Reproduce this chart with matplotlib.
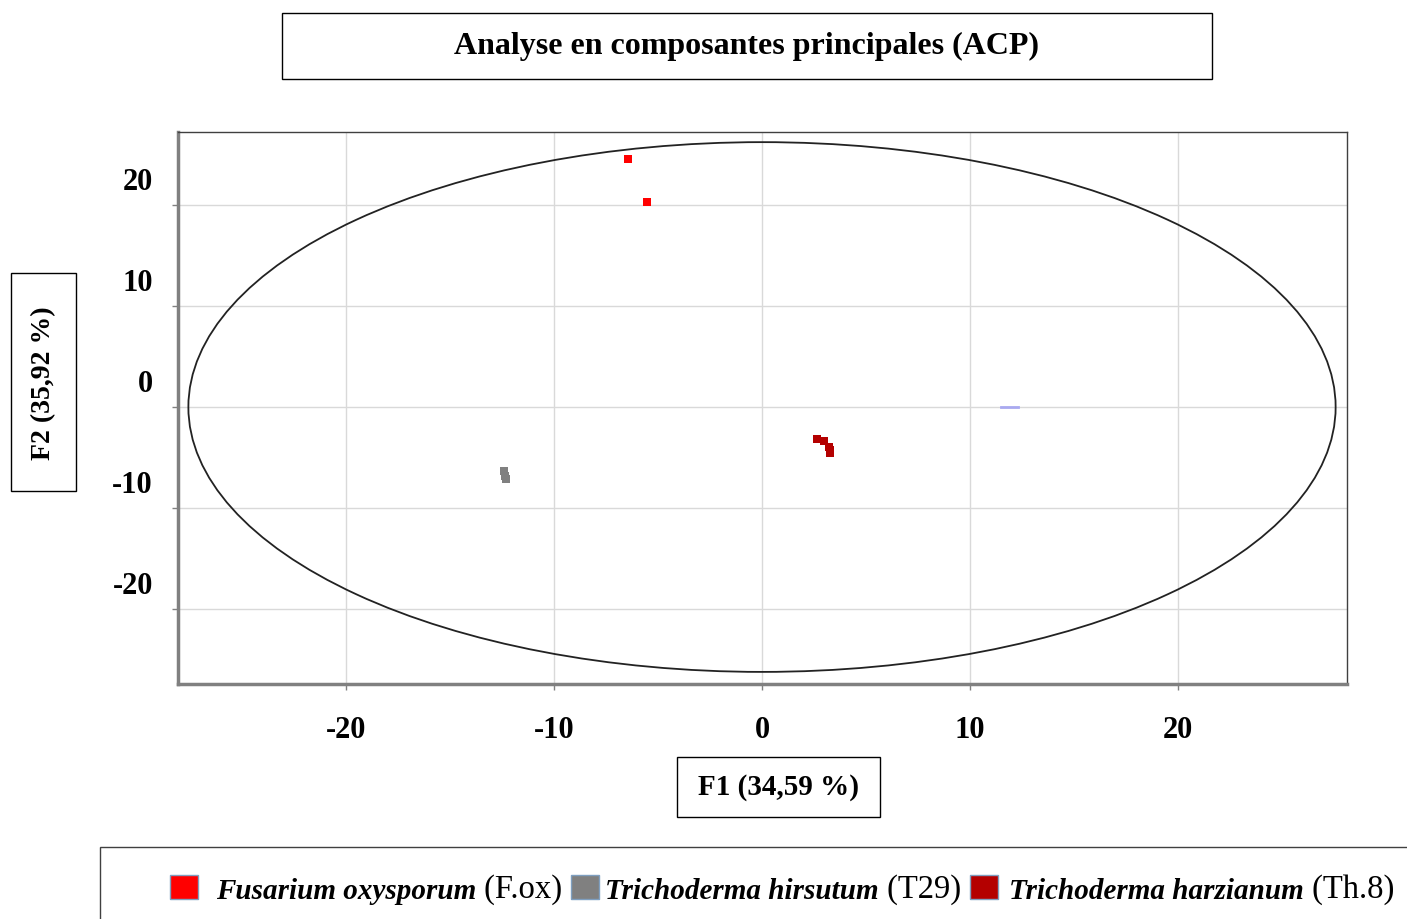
import matplotlib
matplotlib.use("Agg")
import matplotlib.pyplot as plt
from matplotlib.patches import Ellipse, Rectangle
from matplotlib import transforms

plt.rcParams['font.family'] = ['Liberation Serif', 'DejaVu Serif']

# observations projected on F1 / F2
fox_x = [-6.45, -5.55]
fox_y = [24.5, 20.3]
t29_x = [-12.4, -12.35, -12.3]
t29_y = [-6.3, -6.8, -7.1]
th8_x = [2.65, 2.98, 3.22, 3.27, 3.25]
th8_y = [-3.2, -3.35, -3.95, -4.55, -4.25]

# variable markers sitting on the F1 axis
var_x = [11.5, 12.3]
var_y = [0.0, 0.0]

species = ['Fusarium oxysporum', 'Trichoderma hirsutum', 'Trichoderma harzianum']
codes = ['(F.ox)', '(T29)', '(Th.8)']
colors = ['#ff0000', '#808080', '#b40000']

ticks = [-20, -10, 0, 10, 20]
title = 'Analyse en composantes principales (ACP)'
xlabel = 'F1 (34,59 %)'
ylabel = 'F2 (35,92 %)'

# correlation circle radii
circle_rx, circle_ry = 27.6, 26.2

fig = plt.figure(figsize=(14.07, 9.2), dpi=100)
ax = fig.add_axes([0.1265, 0.2554, 0.8309, 0.6])
ax.set_xlim(-28.1, 28.15)
ax.set_ylim(-27.4, 27.2)

ax.grid(True, color='#d9d9d9', linewidth=1)
ax.set_axisbelow(True)
ax.set_xticks(ticks)
ax.set_yticks(ticks)
ax.set_xticklabels([str(t) for t in ticks], fontsize=22, fontweight='bold')
ax.set_yticklabels([str(t) for t in ticks], fontsize=22, fontweight='bold')
ax.tick_params(axis='both', direction='out', length=4, color='#808080', width=1)
ax.tick_params(axis='x', pad=18)
ax.tick_params(axis='y', pad=14)

# y labels sit a little above their grid lines
shift = transforms.ScaledTranslation(0, 0.27, fig.dpi_scale_trans)
for lab in ax.get_yticklabels():
    lab.set_transform(lab.get_transform() + shift)

for side in ['top', 'right']:
    ax.spines[side].set_color('#404040')
    ax.spines[side].set_linewidth(1)
for side in ['left', 'bottom']:
    ax.spines[side].set_color('#808080')
    ax.spines[side].set_linewidth(2.5)

ax.add_patch(Ellipse((0, 0), 2 * circle_rx, 2 * circle_ry, fill=False,
                     edgecolor='#222222', linewidth=1.3, zorder=2))

ax.plot(var_x, var_y, color='#a9a9f0', linewidth=2, zorder=3)

for xs, ys, c in zip([fox_x, t29_x, th8_x], [fox_y, t29_y, th8_y], colors):
    ax.plot(xs, ys, linestyle='none', marker='s', markersize=5.5,
            color=c, markeredgewidth=0, zorder=4)

# framed title and axis titles
def framed_box(x, y, w, h):
    fig.add_artist(Rectangle((x, y), w, h, transform=fig.transFigure,
                             fill=False, edgecolor='black', linewidth=1))

framed_box(0.2004, 0.913, 0.661, 0.0717)
fig.text(0.5306, 0.9495, title, ha='center', va='center', fontsize=23,
         fontweight='bold')

framed_box(0.0078, 0.4652, 0.0462, 0.237)
fig.text(0.0313, 0.5836, ylabel, ha='center', va='center', rotation=90,
         fontsize=20, fontweight='bold')

framed_box(0.4812, 0.1109, 0.1443, 0.0652)
fig.text(0.553, 0.1435, xlabel, ha='center', va='center', fontsize=21,
         fontweight='bold')

# legend along the bottom
fig.add_artist(Rectangle((0.0711, -0.02), 1.0, 0.0983, transform=fig.transFigure,
                         fill=False, edgecolor='#404040', linewidth=1))

W = 1407.0
leg_y = 0.0315
sq_w, sq_h = 28 / W, 24 / 920
text_gap = [18 / W, 6 / W, 11 / W]
x0 = 170 / W
prev = None
for name, code, c, gap in zip(species, codes, colors, text_gap):
    if prev is None:
        sx = x0
    else:
        fig.canvas.draw()
        bb = prev.get_window_extent().transformed(fig.transFigure.inverted())
        sx = bb.x1 + 9 / W
    fig.add_artist(Rectangle((sx, leg_y - sq_h / 2 + 0.003), sq_w, sq_h,
                             transform=fig.transFigure, facecolor=c,
                             edgecolor='#7f9fc0', linewidth=1))
    t1 = fig.text(sx + sq_w + gap, leg_y, name, ha='left', va='center',
                  fontsize=21, fontweight='bold', fontstyle='italic')
    prev = fig.text(0, 0, ' ' + code, ha='left', va='baseline', fontsize=23.5)
    fig.canvas.draw()
    bb = t1.get_window_extent().transformed(fig.transFigure.inverted())
    # align baselines: descent of the italic run is about 0.22 em
    prev.set_position((bb.x1, bb.y0 + 21 * 0.22 / 72 / 9.2))

fig.savefig('out.png', dpi=100)
